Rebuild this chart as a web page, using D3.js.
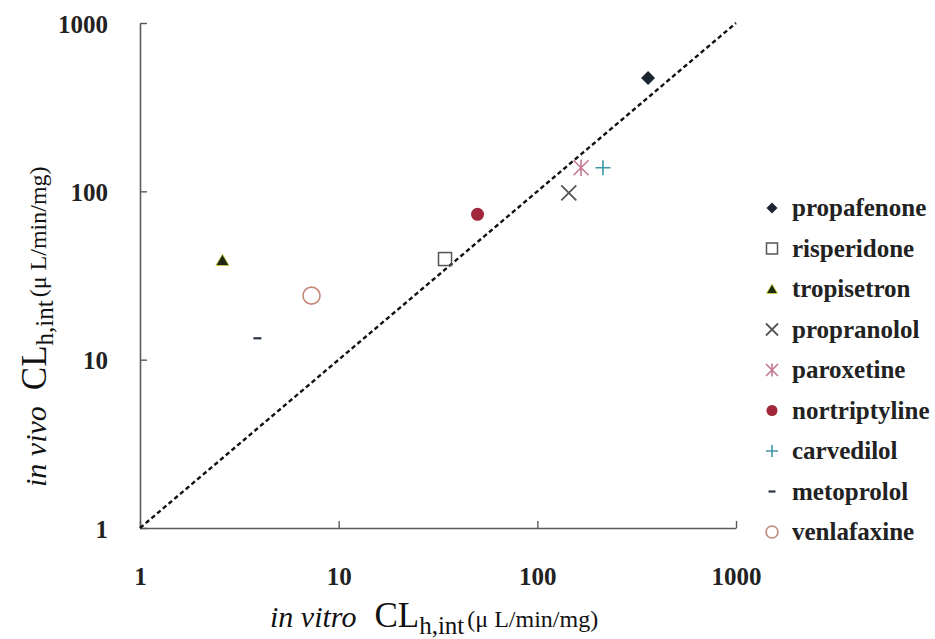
<!DOCTYPE html>
<html><head><meta charset="utf-8">
<script src="https://cdn.jsdelivr.net/npm/d3@7"></script>
<style>html,body{margin:0;padding:0;background:#fff;}svg{display:block;}</style>
</head><body>
<svg id="c" width="935" height="639"></svg>
<script>
const drugs = ["propafenone","risperidone","tropisetron","propranolol","paroxetine","nortriptyline","carvedilol","metoprolol","venlafaxine"];
const inVitro = [361, 34.3, 2.6, 144, 166, 50, 214, 3.9, 7.3];
const inVivo  = [471, 39.6, 39, 98, 138, 73, 138, 13.4, 24];
const tickValues = [1, 10, 100, 1000];
const tickLabels = ["1", "10", "100", "1000"];
const unityLine = [1, 1000];

const markers = {
  propafenone:  {shape:"diamond", fill:"#1c2430", stroke:"none"},
  risperidone:  {shape:"square", fill:"none", stroke:"#555"},
  tropisetron:  {shape:"triangle", fill:"#1f2a12", stroke:"#d8d840"},
  propranolol:  {shape:"x", fill:"none", stroke:"#555"},
  paroxetine:   {shape:"asterisk", fill:"none", stroke:"#c47a96"},
  nortriptyline:{shape:"circle", fill:"#a0283a", stroke:"none"},
  carvedilol:   {shape:"plus", fill:"none", stroke:"#3f97a6"},
  metoprolol:   {shape:"dash", fill:"none", stroke:"#2d3346"},
  venlafaxine:  {shape:"ocircle", fill:"none", stroke:"#c58878"}
};

const svg = d3.select("#c");
const x = d3.scaleLog().domain([1,1000]).range([140,736]);
const y = d3.scaleLog().domain([1,1000]).range([528,23]);
const serif = "'Liberation Serif','DejaVu Serif',serif";

function drawMarker(g, m, s){
  if(m.shape==="diamond"){
    g.append("path").attr("d",`M0,${-s/2}L${s/2},0L0,${s/2}L${-s/2},0Z`).attr("fill",m.fill);
  } else if(m.shape==="square"){
    g.append("rect").attr("x",-s/2).attr("y",-s/2).attr("width",s).attr("height",s).attr("fill","none").attr("stroke",m.stroke).attr("stroke-width",1.5);
  } else if(m.shape==="triangle"){
    g.append("path").attr("d",`M0,${-s*0.5}L${s*0.55},${s*0.45}L${-s*0.55},${s*0.45}Z`).attr("fill",m.fill).attr("stroke",m.stroke).attr("stroke-width",0.8);
  } else if(m.shape==="x"){
    const h=s/2;
    g.append("path").attr("d",`M${-h},${-h}L${h},${h}M${-h},${h}L${h},${-h}`).attr("stroke",m.stroke).attr("stroke-width",1.8);
  } else if(m.shape==="asterisk"){
    const h=s/2;
    g.append("path").attr("d",`M${-h},${-h}L${h},${h}M${-h},${h}L${h},${-h}M0,${-h*1.1}L0,${h*1.1}`).attr("stroke",m.stroke).attr("stroke-width",1.6);
  } else if(m.shape==="circle"){
    g.append("circle").attr("r",s/2).attr("fill",m.fill);
  } else if(m.shape==="plus"){
    const h=s/2;
    g.append("path").attr("d",`M${-h},0L${h},0M0,${-h}L0,${h}`).attr("stroke",m.stroke).attr("stroke-width",1.6);
  } else if(m.shape==="dash"){
    const h=s/2;
    g.append("path").attr("d",`M${-h},0L${h},0`).attr("stroke",m.stroke).attr("stroke-width",2.2);
  } else if(m.shape==="ocircle"){
    g.append("circle").attr("r",s/2).attr("fill","none").attr("stroke",m.stroke).attr("stroke-width",1.6);
  }
}

// axes
const xAxis = d3.axisBottom(x).tickValues(tickValues).tickFormat((d,i)=>tickLabels[i]).tickSizeInner(-7).tickSizeOuter(0).tickPadding(42);
const yAxis = d3.axisLeft(y).tickValues(tickValues).tickFormat((d,i)=>tickLabels[i]).tickSizeInner(-7).tickSizeOuter(0).tickPadding(32);

const gx = svg.append("g").attr("transform","translate(0,528)").call(xAxis);
const gy = svg.append("g").attr("transform","translate(140,0)").call(yAxis);
[gx,gy].forEach(g=>{
  g.select(".domain").attr("stroke","#5a5a5a").attr("stroke-width",1.6);
  g.selectAll(".tick line").attr("stroke","#5a5a5a").attr("stroke-width",1.4);
  g.selectAll(".tick text").attr("font-family",serif).attr("font-size",25).attr("font-weight","bold").attr("fill","#222");
});
gy.selectAll(".tick text").attr("dy","0.36em");
gx.selectAll(".tick text").attr("dy","0.6em");

// unity line
svg.append("line")
  .attr("x1",x(unityLine[0])).attr("y1",y(unityLine[0]))
  .attr("x2",x(unityLine[1])).attr("y2",y(unityLine[1]))
  .attr("stroke","#111").attr("stroke-width",2.4).attr("stroke-dasharray","4.5,3");

// points
const sizes = {diamond:14, square:13, triangle:12, x:15, asterisk:15, circle:13, plus:15, dash:8, ocircle:17};
drugs.forEach((d,i)=>{
  const g = svg.append("g").attr("transform",`translate(${x(inVitro[i])},${y(inVivo[i])})`);
  drawMarker(g, markers[d], sizes[markers[d].shape]);
});

// legend
const lsizes = {diamond:11, square:11, triangle:10, x:12, asterisk:12, circle:11, plus:12, dash:7, ocircle:12};
drugs.forEach((d,i)=>{
  const yy = 208 + i*40.5;
  const g = svg.append("g").attr("transform",`translate(772,${yy})`);
  drawMarker(g, markers[d], lsizes[markers[d].shape]);
  svg.append("text").attr("x",792).attr("y",yy).attr("dy","0.33em")
    .attr("font-family",serif).attr("font-size",25).attr("font-weight","bold").attr("fill","#222").text(d);
});

// x title
const xt = svg.append("text").attr("x",270).attr("y",627).attr("font-family",serif).attr("fill","#111");
xt.append("tspan").attr("font-style","italic").attr("font-size",30).text("in vitro");
xt.append("tspan").attr("font-size",35).attr("dx",18).text("CL");
xt.append("tspan").attr("font-size",25).attr("dy",7).text("h,int");
xt.append("tspan").attr("font-size",24).attr("dy",-7).attr("dx",3).text("(μ L/min/mg)");

// y title
const yt = svg.append("text").attr("transform","translate(46,487) rotate(-90)").attr("font-family",serif).attr("fill","#111");
yt.append("tspan").attr("font-style","italic").attr("font-size",30).text("in vivo");
yt.append("tspan").attr("font-size",35).attr("dx",16).text("CL");
yt.append("tspan").attr("font-size",25).attr("dy",7).text("h,int");
yt.append("tspan").attr("font-size",24).attr("dy",-7).attr("dx",3).text("(μ L/min/mg)");
</script>
</body></html>
